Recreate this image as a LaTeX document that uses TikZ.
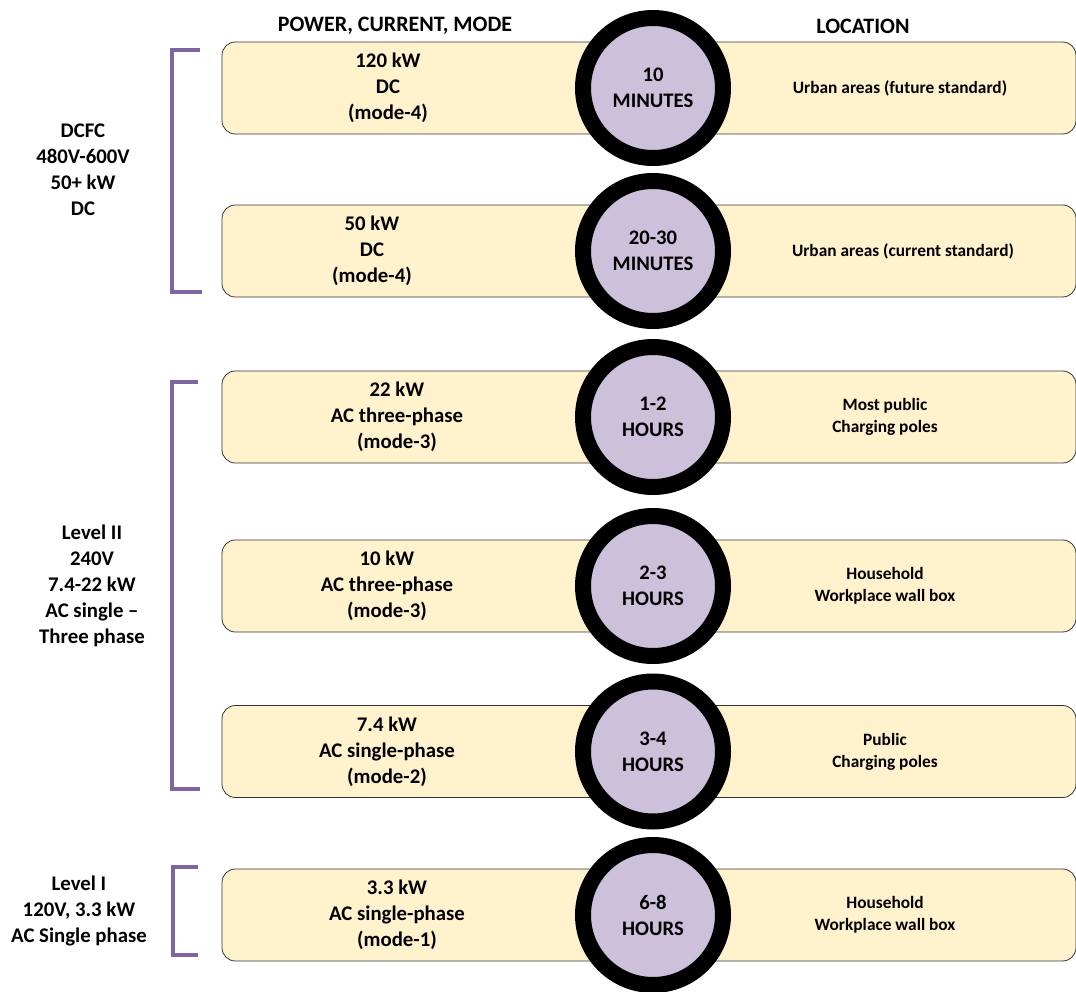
\documentclass[tikz,border=0pt]{standalone}
\usepackage{fontspec}
\setmainfont{Carlito}
\usepackage{xcolor}
\usepackage{tikz}
\usetikzlibrary{positioning}

\definecolor{barfill}{HTML}{FFF2CC}
\definecolor{ringfill}{HTML}{CCC0DA}
\definecolor{brackcol}{HTML}{8064A2}

\begin{document}
\begin{tikzpicture}[
  x=0.75pt, y=-0.75pt,
  bar/.style={draw=black!80, fill=barfill, rounded corners=10pt, minimum width=640.5pt, minimum height=69pt, line width=0.6pt},
  ring/.style={circle, draw=black, line width=12pt, fill=ringfill, minimum size=105pt, inner sep=0pt, align=center, font=\fontsize{15.5}{19.5}\selectfont\bfseries},
  pw/.style={align=center, font=\fontsize{15.6}{19.5}\selectfont\bfseries},
  hd/.style={align=center, font=\fontsize{16.5}{19.5}\selectfont\bfseries},
  loc/.style={align=center, font=\fontsize{13}{16.5}\selectfont\bfseries},
  lvl/.style={align=center, font=\fontsize{15.6}{19.5}\selectfont\bfseries},
  brack/.style={draw=brackcol, line width=2.4pt}
]
\useasboundingbox (0,0) rectangle (1076,992);

% column headings
\node[hd] (hpw) at (395,26) {POWER, CURRENT, MODE};
\node[hd] (hloc) at (863,26) {LOCATION};

% bars
\node[bar] (b1) at (649,88) {};
\node[bar] (b2) at (649,251) {};
\node[bar] (b3) at (649,417) {};
\node[bar] (b4) at (649,586) {};
\node[bar] (b5) at (649,751.5) {};
\node[bar] (b6) at (649,915) {};

% power, current, mode
\node[pw] (p1) at (388,88) {120 kW\\DC\\(mode-4)};
\node[pw] (p2) at (372,251) {50 kW\\DC\\(mode-4)};
\node[pw] (p3) at (397,417) {22 kW\\AC three-phase\\(mode-3)};
\node[pw] (p4) at (387,586) {10 kW\\AC three-phase\\(mode-3)};
\node[pw] (p5) at (387,751.5) {7.4 kW\\AC single-phase\\(mode-2)};
\node[pw] (p6) at (397,915) {3.3 kW\\AC single-phase\\(mode-1)};

% charging times
\node[ring] (t1) at (653,88) {10\\MINUTES};
\node[ring] (t2) at (653,251) {20-30\\MINUTES};
\node[ring] (t3) at (653,417) {1-2\\HOURS};
\node[ring] (t4) at (653,586) {2-3\\HOURS};
\node[ring] (t5) at (653,751.5) {3-4\\HOURS};
\node[ring] (t6) at (653,915) {6-8\\HOURS};

% location
\node[loc] (l1) at (900,88) {Urban areas (future standard)};
\node[loc] (l2) at (903,251) {Urban areas (current standard)};
\node[loc] (l3) at (885,417) {Most public\\Charging poles};
\node[loc] (l4) at (885,586) {Household\\Workplace wall box};
\node[loc] (l5) at (885,751.5) {Public\\Charging poles};
\node[loc] (l6) at (885,915) {Household\\Workplace wall box};

% levels
\node[lvl] (dcfc) at (83,170) {DCFC\\480V-600V\\50+ kW\\DC};
\node[lvl] (lv2) at (92,586) {Level II\\240V\\7.4-22 kW\\AC single --\\Three phase};
\node[lvl] (lv1) at (79,911) {Level I\\120V, 3.3 kW\\AC Single phase};

\draw[brack] (200,50) -- (172,50) -- (172,292) -- (202,292);
\draw[brack] (198,382) -- (172,382) -- (172,789) -- (200,789);
\draw[brack] (198,867) -- (173,867) -- (173,955) -- (198,955);
\end{tikzpicture}
\end{document}
